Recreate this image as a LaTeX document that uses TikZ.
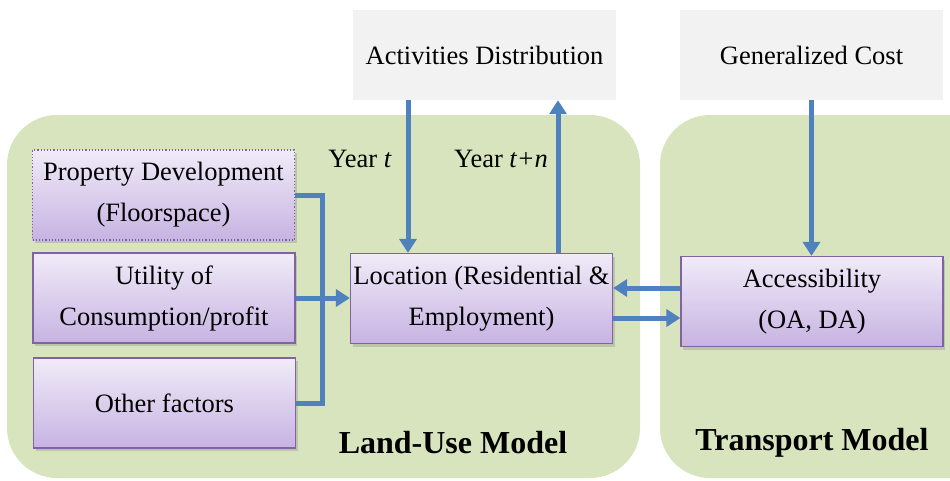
\documentclass[tikz,border=0pt]{standalone}
\usepackage{fontspec}
\setmainfont{Liberation Serif}
\usetikzlibrary{arrows.meta,shadows}
\definecolor{panelgreen}{HTML}{D7E4BD}
\definecolor{srcgray}{HTML}{F2F2F2}
\definecolor{unitborder}{HTML}{8064A2}
\definecolor{unittop}{HTML}{F0EBF8}
\definecolor{unitbottom}{HTML}{C7B3E2}
\definecolor{flowblue}{HTML}{4F81BD}
\begin{document}
\begin{tikzpicture}[x=1pt,y=-1pt]
	\tikzstyle{panel} = [fill=panelgreen,rounded corners=50pt]
	\tikzstyle{source} = [fill=srcgray,minimum width=263pt,minimum height=90pt,font=\fontsize{26.5}{41}\selectfont]
	\tikzstyle{unit} = [draw=unitborder,line width=1.2pt,top color=unittop,bottom color=unitbottom,minimum width=262pt,minimum height=90pt,inner sep=2pt,align=center,font=\fontsize{26.5}{41}\selectfont,drop shadow={shadow xshift=2pt,shadow yshift=-3pt,opacity=0.3}]
	\tikzstyle{flow} = [draw=flowblue,line width=5pt,-{Triangle[length=14pt,width=17pt]}]
	\tikzstyle{title} = [font=\fontsize{32}{36}\selectfont\bfseries]

		\useasboundingbox (0,0) rectangle (950,480);

		% the two model panels
		\fill[panel] (7,115) rectangle (640,478);
		\begin{scope}
			\clip (0,0) rectangle (950,480);
			\fill[panel] (660,115) rectangle (1010,478);
		\end{scope}

		\node[source] (act) at (484.5,55){Activities Distribution};
		\node[source] (cost) at (811.5,55){Generalized Cost};

		\node[unit,dotted] (prop) at (163.5,195){Property Development\\(Floorspace)};
		\node[unit] (util) at (164,298){Utility of\\Consumption/profit};
		\node[unit] (other) at (164.5,403){Other factors};
		\node[unit] (loc) at (481.5,298.5){Location (Residential \&\\Employment)};
		\node[unit] (acc) at (812,301.5){Accessibility\\(OA, DA)};

		\node[font=\fontsize{26.5}{30}\selectfont] (yt) at (360,159){Year \textit{t}};
		\node[font=\fontsize{26.5}{30}\selectfont] (ytn) at (501,159){Year \textit{t+n}};
		\node[title] (lum) at (453,443){Land-Use Model};
		\node[title] (tm) at (812,443){Transport Model};

		% factors feeding the location choice
		\coordinate (bus) at (322,300);
		\draw[draw=flowblue,line width=5pt] (prop.east) -- (prop.east -| bus) -- (other.east -| bus) -- (other.east);
		\draw[flow] (util.east) -- (util.east -| loc.west);

		\draw[flow] ([xshift=-76.5pt]act.south) -- ([xshift=-76.5pt]act.south |- loc.north);
		\draw[flow] ([xshift=76.5pt]loc.north) -- ([xshift=76.5pt]loc.north |- act.south);
		\draw[flow] (cost.south) -- (cost.south |- acc.north);

		\draw[flow] ([yshift=13.5pt]acc.west) -- ([yshift=13.5pt]acc.west -| loc.east);
		\draw[flow] ([yshift=-19.5pt]loc.east) -- ([yshift=-19.5pt]loc.east -| acc.west);
\end{tikzpicture}
\end{document}
